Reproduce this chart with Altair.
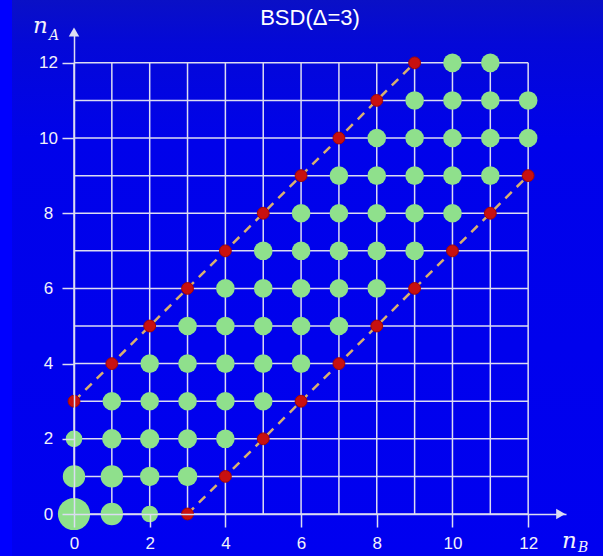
import altair as alt
import pandas as pd

# ---- data -------------------------------------------------------------
# allowed states (n_B, n_A) per row n_A
green_nA = [0, 1, 2, 3, 4, 5, 6, 7, 8, 9, 10, 11, 12]
green_nB = [
    [0, 1, 2],
    [0, 1, 2, 3],
    [0, 1, 2, 3, 4],
    [1, 2, 3, 4, 5],
    [2, 3, 4, 5, 6],
    [3, 4, 5, 6, 7],
    [4, 5, 6, 7, 8],
    [5, 6, 7, 8, 9],
    [6, 7, 8, 9, 10],
    [7, 8, 9, 10, 11],
    [8, 9, 10, 11, 12],
    [9, 10, 11, 12],
    [10, 11],
]
# relative weights of the states near the origin (others weigh 1)
weight_pts = [(0, 0), (1, 0), (0, 1), (1, 1), (2, 0), (0, 2), (2, 1), (3, 1), (1, 2), (2, 2), (3, 2)]
weight_vals = [3.0, 1.45, 1.45, 1.45, 0.8, 0.8, 1.1, 1.1, 1.1, 1.1, 1.05]

# boundary states |n_A - n_B| = 3
upper_nB = [0, 1, 2, 3, 4, 5, 6, 7, 8, 9]
upper_nA = [3, 4, 5, 6, 7, 8, 9, 10, 11, 12]
lower_nB = [3, 4, 5, 6, 7, 8, 9, 10, 11, 12]
lower_nA = [0, 1, 2, 3, 4, 5, 6, 7, 8, 9]

grid_vals = list(range(0, 13))
tick_vals = [0, 2, 4, 6, 8, 10, 12]

# ---- tables -----------------------------------------------------------
wmap = dict(zip(weight_pts, weight_vals))
green_rows = []
for a, row in zip(green_nA, green_nB):
    for b in row:
        green_rows.append({"nB": b, "nA": a, "w": wmap.get((b, a), 1.0)})
green_df = pd.DataFrame(green_rows)

red_df = pd.DataFrame({"nB": upper_nB + lower_nB, "nA": upper_nA + lower_nA})
dash_df = pd.DataFrame({
    "nB": [upper_nB[0], upper_nB[-1], lower_nB[0], lower_nB[-1]],
    "nA": [upper_nA[0], upper_nA[-1], lower_nA[0], lower_nA[-1]],
    "edge": ["upper", "upper", "lower", "lower"],
})
vgrid = pd.DataFrame({"x": grid_vals, "y0": 0, "y1": 12})
hgrid = pd.DataFrame({"y": grid_vals, "x0": 0, "x1": 12})

W, H = 492, 485
xs = alt.Scale(domain=[0, 13], nice=False, zero=False)
ys = alt.Scale(domain=[0, 12.9], nice=False, zero=False)
LINE = "#dcdcf2"
LABEL = "#f2f2fa"

one = pd.DataFrame({"k": [0]})

# background with a slightly darker top band
bg = alt.Chart(one).mark_rect(
    clip=False,
    fill=alt.LinearGradient(
        gradient="linear", x1=0, x2=0, y1=0, y2=1,
        stops=[
            alt.GradientStop(color="#0a10c6", offset=0),
            alt.GradientStop(color="#0408d8", offset=0.08),
            alt.GradientStop(color="#0002ea", offset=0.25),
            alt.GradientStop(color="#0000f0", offset=1),
        ],
    )
).encode(x=alt.value(-74), x2=alt.value(W + 37), y=alt.value(-29), y2=alt.value(H + 42))

edge = alt.Chart(one).mark_rect(color="#0000ff", clip=False).encode(
    x=alt.value(-74), x2=alt.value(-62), y=alt.value(-29), y2=alt.value(H + 42)
)

axis_style = dict(title=None, grid=False, tickWidth=1.5, tickColor=LINE,
                  domainColor=LINE, domainWidth=1.5, labelFontSize=17,
                  labelColor=LABEL, labelFont="Liberation Sans", labelFlush=False,
                  zindex=1)

vlines = alt.Chart(vgrid).mark_rule(color=LINE, strokeWidth=1.5).encode(
    x=alt.X("x:Q", scale=xs,
            axis=alt.Axis(values=tick_vals, tickSize=13, labelPadding=8, **axis_style)),
    y=alt.Y("y0:Q", scale=ys,
            axis=alt.Axis(values=tick_vals, tickSize=12, labelPadding=14,
                          labelAlign="center", **axis_style)),
    y2="y1:Q",
)
hlines = alt.Chart(hgrid).mark_rule(color=LINE, strokeWidth=1.5).encode(
    y=alt.Y("y:Q", scale=ys), x=alt.X("x0:Q", scale=xs), x2="x1:Q"
)

arrows = alt.Chart(pd.DataFrame({
    "x": [12.86, 0], "y": [0, 12.82], "shape": ["triangle-right", "triangle-up"]
})).mark_point(filled=True, color=LINE, size=110, opacity=1).encode(
    x=alt.X("x:Q", scale=xs), y=alt.Y("y:Q", scale=ys),
    shape=alt.Shape("shape:N", scale=None),
)

dashes = alt.Chart(dash_df).mark_line(
    color="#d9b070", strokeWidth=2.5, strokeDash=[9, 7]
).encode(x=alt.X("nB:Q", scale=xs), y=alt.Y("nA:Q", scale=ys), detail="edge:N")

greens = alt.Chart(green_df).mark_circle(color="#8fe08c", opacity=1).encode(
    x=alt.X("nB:Q", scale=xs), y=alt.Y("nA:Q", scale=ys),
    size=alt.Size("w:Q", scale=alt.Scale(domain=[0, 1], range=[0, 346]), legend=None),
)

reds = alt.Chart(red_df).mark_circle(color="#c81010", size=140, opacity=1,
                                     stroke="#a00808", strokeWidth=1).encode(
    x=alt.X("nB:Q", scale=xs), y=alt.Y("nA:Q", scale=ys)
)

def label(txt, x, y, size, font, style="normal", color="white"):
    return alt.Chart(one).mark_text(
        text=txt, fontSize=size, font=font, fontStyle=style, color=color,
        align="left", baseline="alphabetic", clip=False
    ).encode(x=alt.value(x), y=alt.value(y))

title = alt.Chart(one).mark_text(
    text="BSD(Δ=3)", fontSize=22, font="Liberation Sans", color="white",
    align="center", baseline="alphabetic", clip=False
).encode(x=alt.value(236), y=alt.value(-4))

nA_n = label("n", -41, 4, 23, "DejaVu Serif", "italic", LABEL)
nA_s = label("A", -25, 11, 14, "DejaVu Serif", "italic", LABEL)
nB_n = label("n", 488, 519, 23, "DejaVu Serif", "italic", LABEL)
nB_s = label("B", 504, 523, 14, "DejaVu Serif", "italic", LABEL)

chart = alt.layer(
    bg, edge, vlines, hlines, arrows, dashes, greens, reds,
    title, nA_n, nA_s, nB_n, nB_s,
).properties(
    width=W, height=H,
    autosize=alt.AutoSizeParams(type="none"),
    padding={"left": 74, "top": 29, "right": 37, "bottom": 42},
    background="#0000f0",
).configure_view(stroke=None, clip=False)

chart.save("out.html", embed_options={"renderer": "svg", "actions": False})
